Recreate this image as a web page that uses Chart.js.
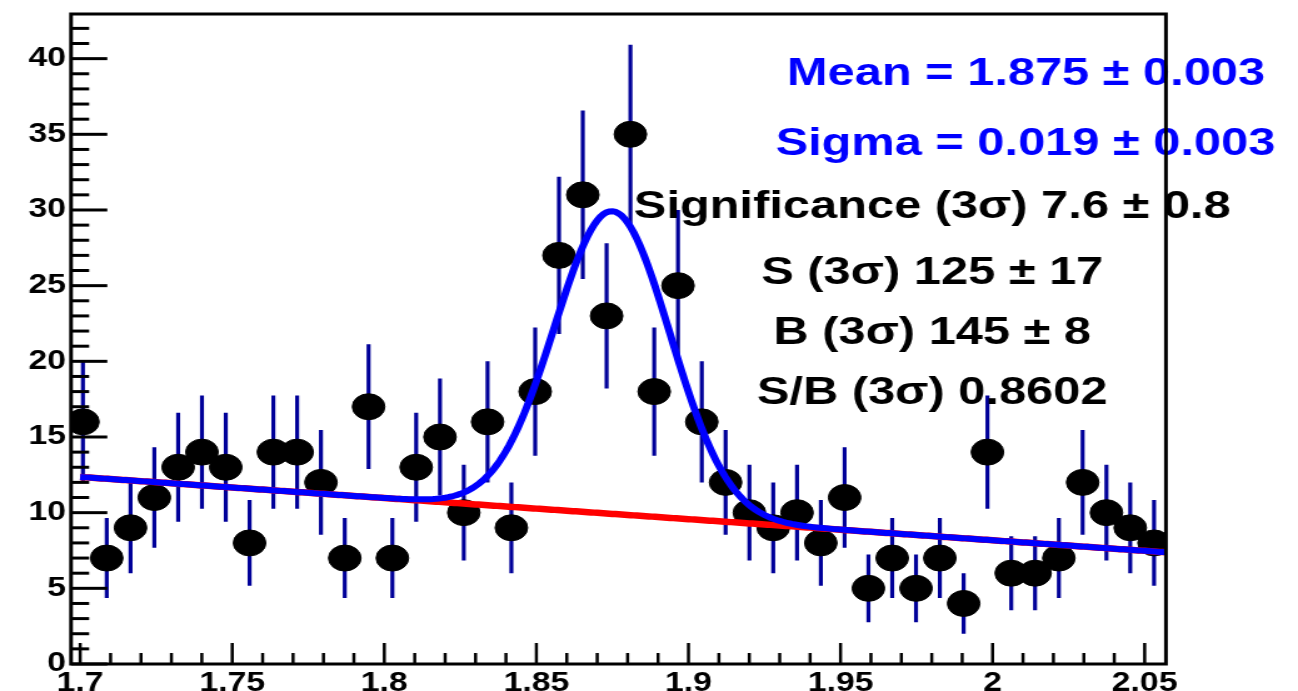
<!DOCTYPE html>
<html>
<head>
<meta charset="utf-8">
<title>Invariant mass fit</title>
<script src="https://cdn.jsdelivr.net/npm/chart.js@4.4.0/dist/chart.umd.min.js"></script>
<style>
  html, body { margin: 0; padding: 0; background: #fff; overflow: hidden; }
  #wrap { width: 1298px; height: 691px; overflow: hidden; }
  canvas { display: block; }
</style>
</head>
<body>
<div id="wrap">
  <canvas id="massPlot" width="1038" height="700" style="width:1298px;height:700px;"></canvas>
</div>
<script>
// ---- histogram: 46 equal bins between histMin and histMax ----
const histMin = 1.697;
const histMax = 2.057;
const nBins = 46;
const counts = [16, 7, 9, 11, 13, 14, 13, 8, 14, 14,
                12, 7, 17, 7, 13, 15, 10, 16, 9, 18,
                27, 31, 23, 35, 18, 25, 16, 12, 10, 9,
                10, 8, 11, 5, 7, 5, 7, 4, 14, 6,
                6, 7, 12, 10, 9, 8];

// ---- fit: gaussian peak on a linear background ----
const fitMean = 1.875;
const fitSigma = 0.019;
const fitAmplitude = 20.0;
const bkgAtStart = 12.36;     // background level at fitStart
const bkgSlope = -13.95;      // counts per unit of mass
const fitStart = 1.70;
const fitEnd = 2.057;

// ---- axes ----
const xTickValues = [1.7, 1.75, 1.8, 1.85, 1.9, 1.95, 2.0, 2.05];
const xTickLabels = ['1.7', '1.75', '1.8', '1.85', '1.9', '1.95', '2', '2.05'];
const yTickValues = [0, 5, 10, 15, 20, 25, 30, 35, 40];
const yTickLabels = ['0', '5', '10', '15', '20', '25', '30', '35', '40'];
const yMax = 42.95;

// ---- fit summary ----
const meanLine = 'Mean = 1.875 \u00B1 0.003';
const sigmaLine = 'Sigma = 0.019 \u00B1 0.003';
const resultLines = [
  'Significance (3\u03C3) 7.6 \u00B1 0.8',
  'S (3\u03C3) 125 \u00B1 17',
  'B (3\u03C3) 145 \u00B1 8',
  'S/B (3\u03C3) 0.8602'
];

// ---- derived series ----
const binWidth = (histMax - histMin) / nBins;
const binCenters = counts.map((_, i) => histMin + (i + 0.5) * binWidth);
const pointData = counts.map((n, i) => ({ x: binCenters[i], y: n }));
const errorData = [];
counts.forEach((n, i) => {
  const e = Math.sqrt(n);
  errorData.push({ x: binCenters[i], y: n - e });
  errorData.push({ x: binCenters[i], y: n + e });
  errorData.push({ x: binCenters[i], y: null });
});

function background(m) { return bkgAtStart + bkgSlope * (m - fitStart); }
function signalPlusBackground(m) {
  const d = (m - fitMean) / fitSigma;
  return background(m) + fitAmplitude * Math.exp(-0.5 * d * d);
}
const fitGrid = [];
for (let m = fitStart; m < fitEnd; m += 0.001) fitGrid.push(m);
fitGrid.push(fitEnd);
const totalCurve = fitGrid.map(m => ({ x: m, y: signalPlusBackground(m) }));
const bkgCurve = fitGrid.map(m => ({ x: m, y: background(m) }));

const FONT = '"Liberation Sans", Arial, Helvetica, sans-serif';

// summary text drawn over the data
const summaryText = {
  id: 'summaryText',
  afterDatasetsDraw(chart) {
    const ctx = chart.ctx;
    ctx.save();
    ctx.textAlign = 'center';
    ctx.textBaseline = 'alphabetic';
    ctx.font = 'bold 39px ' + FONT;
    ctx.fillStyle = '#0000ff';
    ctx.fillText(meanLine, 820.5, 85);
    ctx.fillText(sigmaLine, 820.0, 155);
    ctx.fillStyle = '#000000';
    const baselines = [218, 284, 344, 404];
    resultLines.forEach((t, i) => ctx.fillText(t, 745.5, baselines[i]));
    ctx.restore();
  }
};

// frame with inward major/minor ticks
const frameTicks = {
  id: 'frameTicks',
  afterDraw(chart) {
    const { ctx, chartArea: a, scales } = chart;
    const xs = scales.x, ys = scales.y;
    ctx.save();
    ctx.strokeStyle = '#000';
    ctx.lineCap = 'butt';
    ctx.lineWidth = 2.5;
    for (let k = 170; k <= 205; k++) {
      const px = xs.getPixelForValue(k / 100);
      const len = (k % 5 === 0) ? 21 : 11;
      ctx.beginPath();
      ctx.moveTo(px, a.bottom);
      ctx.lineTo(px, a.bottom - len);
      ctx.stroke();
    }
    ctx.lineWidth = 3;
    for (let n = 0; n <= 42; n++) {
      const py = ys.getPixelForValue(n);
      const len = (n % 5 === 0) ? 29 : 14.5;
      ctx.beginPath();
      ctx.moveTo(a.left, py);
      ctx.lineTo(a.left + len, py);
      ctx.stroke();
    }
    ctx.lineWidth = 3;
    ctx.strokeRect(a.left, a.top, a.right - a.left, a.bottom - a.top);
    ctx.restore();
  }
};

const tickFont = { family: FONT, size: 27, weight: 'bold' };

new Chart(document.getElementById('massPlot'), {
  type: 'scatter',
  data: {
    datasets: [
      {
        label: 'signal + background',
        data: totalCurve,
        showLine: true,
        borderColor: '#0000ff',
        borderWidth: 6,
        pointRadius: 0,
        tension: 0,
        order: 0
      },
      {
        label: 'background',
        data: bkgCurve,
        showLine: true,
        borderColor: '#ff0000',
        borderWidth: 6.5,
        pointRadius: 0,
        tension: 0,
        order: 1
      },
      {
        label: 'data',
        data: pointData,
        showLine: false,
        pointStyle: 'circle',
        pointRadius: 13,
        pointBorderWidth: 1,
        pointBackgroundColor: '#000',
        pointBorderColor: '#000',
        order: 2
      },
      {
        label: 'errors',
        data: errorData,
        showLine: true,
        spanGaps: false,
        borderColor: '#000099',
        borderWidth: 3.2,
        borderCapStyle: 'butt',
        pointRadius: 0,
        order: 3
      }
    ]
  },
  options: {
    responsive: false,
    animation: false,
    devicePixelRatio: 1,
    events: [],
    layout: { padding: { left: 0, top: 10, right: 105.6, bottom: 0 } },
    plugins: { legend: { display: false }, tooltip: { enabled: false } },
    scales: {
      x: {
        type: 'linear',
        min: histMin,
        max: histMax,
        afterBuildTicks: s => { s.ticks = xTickValues.map(v => ({ value: v })); },
        afterFit: s => {
          s.height = 36;
          s.paddingLeft = 0;
          s.paddingRight = 0;
        },
        ticks: {
          callback: (v, i) => xTickLabels[i],
          autoSkip: false,
          maxRotation: 0,
          minRotation: 0,
          padding: 3,
          color: '#000',
          font: tickFont
        },
        grid: { display: false, drawTicks: false },
        border: { display: false }
      },
      y: {
        type: 'linear',
        min: 0,
        max: yMax,
        afterBuildTicks: s => { s.ticks = yTickValues.map(v => ({ value: v })); },
        afterFit: s => {
          s.width = 56.8;
          s.paddingTop = 0;
          s.paddingBottom = 0;
        },
        ticks: {
          callback: (v, i) => yTickLabels[i],
          autoSkip: false,
          padding: 4,
          color: '#000',
          font: tickFont
        },
        grid: { display: false, drawTicks: false },
        border: { display: false }
      }
    }
  },
  plugins: [summaryText, frameTicks]
});
</script>
</body>
</html>
